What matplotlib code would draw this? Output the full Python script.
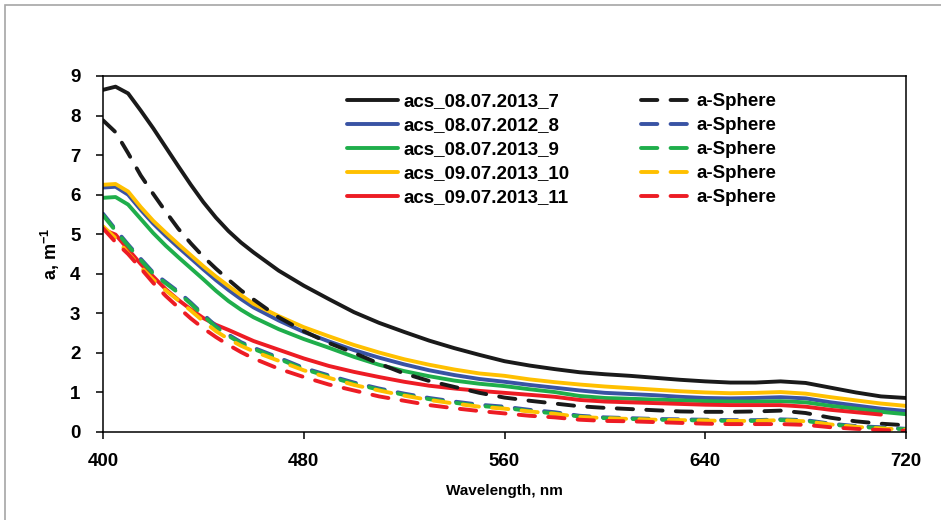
import numpy as np
import matplotlib
matplotlib.use('Agg')
import matplotlib.pyplot as plt
from matplotlib.patches import Rectangle

plt.rcParams['font.family'] = ['Liberation Sans', 'DejaVu Sans']
plt.rcParams['font.weight'] = 'bold'
plt.rcParams['mathtext.default'] = 'regular'

wl = np.array([400, 405, 410, 415, 420, 425, 430, 435, 440, 445, 450, 455, 460, 470, 480,
               490, 500, 510, 520, 530, 540, 550, 560, 570, 580, 590, 600, 610, 620, 630,
               640, 650, 660, 670, 680, 690, 700, 710, 720])

# measured absorption (solid)
acs_7 = [8.65, 8.73, 8.56, 8.13, 7.68, 7.20, 6.72, 6.25, 5.81, 5.42, 5.08, 4.79, 4.54, 4.08, 3.70,
         3.36, 3.03, 2.76, 2.53, 2.31, 2.12, 1.95, 1.79, 1.68, 1.59, 1.51, 1.46, 1.42, 1.37, 1.32,
         1.28, 1.25, 1.25, 1.28, 1.24, 1.12, 1.00, 0.90, 0.86]
acs_8 = [6.18, 6.20, 6.00, 5.62, 5.27, 4.96, 4.67, 4.39, 4.11, 3.84, 3.59, 3.36, 3.15, 2.82, 2.53,
         2.29, 2.07, 1.88, 1.71, 1.56, 1.44, 1.34, 1.27, 1.19, 1.12, 1.05, 0.99, 0.96, 0.93, 0.89,
         0.86, 0.85, 0.86, 0.88, 0.85, 0.75, 0.67, 0.59, 0.53]
acs_9 = [5.92, 5.94, 5.75, 5.39, 5.03, 4.71, 4.42, 4.14, 3.86, 3.57, 3.31, 3.09, 2.90, 2.60, 2.35,
         2.13, 1.90, 1.70, 1.54, 1.41, 1.30, 1.22, 1.16, 1.08, 1.01, 0.91, 0.86, 0.84, 0.82, 0.80,
         0.78, 0.77, 0.77, 0.78, 0.75, 0.66, 0.59, 0.51, 0.45]
acs_10 = [6.25, 6.27, 6.08, 5.69, 5.34, 5.04, 4.75, 4.47, 4.19, 3.93, 3.69, 3.46, 3.24, 2.93, 2.65,
          2.42, 2.20, 2.01, 1.84, 1.70, 1.58, 1.48, 1.42, 1.33, 1.26, 1.20, 1.15, 1.11, 1.07, 1.03,
          1.00, 0.98, 0.99, 1.01, 0.97, 0.88, 0.80, 0.72, 0.66]
acs_11 = [5.12, 4.99, 4.62, 4.25, 3.93, 3.61, 3.34, 3.10, 2.88, 2.71, 2.58, 2.44, 2.30, 2.08, 1.86,
          1.67, 1.52, 1.39, 1.27, 1.17, 1.10, 1.04, 0.99, 0.94, 0.89, 0.81, 0.77, 0.75, 0.73, 0.71,
          0.69, 0.68, 0.68, 0.68, 0.64, 0.56, 0.50, 0.44, np.nan]

# a-Sphere model (dashed)
sph_7 = [7.88, 7.58, 7.05, 6.49, 6.02, 5.57, 5.14, 4.77, 4.43, 4.13, 3.85, 3.58, 3.35, 2.90, 2.55,
         2.25, 2.00, 1.73, 1.48, 1.29, 1.14, 0.99, 0.87, 0.79, 0.72, 0.65, 0.61, 0.58, 0.55, 0.52,
         0.51, 0.51, 0.52, 0.54, 0.48, 0.36, 0.27, 0.21, 0.17]
sph_8 = [5.52, 5.12, 4.74, 4.38, 4.03, 3.79, 3.55, 3.27, 2.97, 2.68, 2.46, 2.27, 2.13, 1.88, 1.62,
         1.43, 1.25, 1.10, 0.97, 0.86, 0.77, 0.69, 0.64, 0.56, 0.50, 0.41, 0.37, 0.35, 0.33, 0.32,
         0.31, 0.30, 0.30, 0.32, 0.30, 0.21, 0.15, 0.12, 0.08]
sph_9 = [5.48, 5.09, 4.71, 4.35, 4.00, 3.76, 3.52, 3.24, 2.94, 2.65, 2.43, 2.24, 2.10, 1.85, 1.59,
         1.40, 1.22, 1.07, 0.94, 0.83, 0.74, 0.66, 0.61, 0.53, 0.47, 0.39, 0.35, 0.33, 0.31, 0.30,
         0.29, 0.28, 0.28, 0.30, 0.28, 0.19, 0.13, 0.10, 0.07]
sph_10 = [5.20, 4.90, 4.52, 4.17, 3.85, 3.58, 3.33, 3.07, 2.80, 2.55, 2.35, 2.18, 2.04, 1.80, 1.56,
          1.37, 1.19, 1.05, 0.92, 0.81, 0.72, 0.64, 0.59, 0.52, 0.46, 0.38, 0.35, 0.33, 0.31, 0.30,
          0.29, 0.28, 0.28, 0.30, 0.27, 0.19, 0.13, 0.09, 0.06]
sph_11 = [5.15, 4.80, 4.50, 4.14, 3.77, 3.44, 3.15, 2.87, 2.62, 2.40, 2.20, 2.02, 1.86, 1.60, 1.39,
          1.20, 1.05, 0.90, 0.79, 0.68, 0.60, 0.53, 0.47, 0.41, 0.37, 0.31, 0.28, 0.27, 0.25, 0.23,
          0.21, 0.20, 0.20, 0.20, 0.18, 0.12, 0.08, 0.05, 0.03]

labels = ['acs_08.07.2013_7', 'acs_08.07.2012_8', 'acs_08.07.2013_9',
          'acs_09.07.2013_10', 'acs_09.07.2013_11']
colors = ['#1a1a1a', '#3953a4', '#1fae4b', '#ffc000', '#ed1c24']
solids = [acs_7, acs_8, acs_9, acs_10, acs_11]
dashes = [sph_7, sph_8, sph_9, sph_10, sph_11]

fig = plt.figure(figsize=(9.41, 5.20), dpi=100)
ax = fig.add_axes([103 / 941, 88 / 520, 803 / 941, 356 / 520])

# light gray outer frame
fig.patches.append(Rectangle((5 / 941, -0.1), 1.1, 1.1 - 5 / 520, transform=fig.transFigure,
                             fill=False, ec='#a6a6a6', lw=1.2))

lw = 2.8
for y, c, lab in zip(solids, colors, labels):
    ax.plot(wl, y, color=c, lw=lw, label=lab, solid_capstyle='round',
            solid_joinstyle='round')
for y, c in zip(dashes, colors):
    ax.plot(wl, y, color=c, lw=lw, ls=(0, (4.2, 3.4)), label='a-Sphere',
            dash_capstyle='round')

ax.set_xlim(400, 720)
ax.set_ylim(0, 9)
ax.set_xticks(range(400, 721, 80))
ax.set_yticks(range(0, 10))
for s in ax.spines.values():
    s.set_color('black')
    s.set_linewidth(1.1)
ax.tick_params(direction='out', length=5.2, width=1.1, labelsize=13.5)
ax.tick_params(axis='x', pad=10)
ax.tick_params(axis='y', pad=11)
ax.set_xlabel('Wavelength, nm', fontsize=11, fontweight='bold', labelpad=10)
ax.set_ylabel('a, m$^{-1}$', fontsize=13, fontweight='bold', labelpad=6)

ax.legend(ncol=2, loc='upper left', bbox_to_anchor=(0.304, 0.952), frameon=False,
          fontsize=13.5, handlelength=2.7, handletextpad=0.3, columnspacing=3.8,
          labelspacing=0.37, borderaxespad=0, borderpad=0)

fig.savefig('out.png', dpi=100)
